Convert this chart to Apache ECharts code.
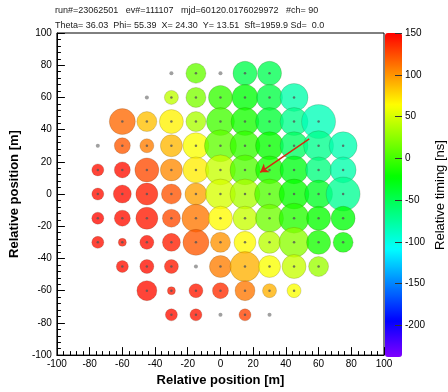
<!DOCTYPE html>
<html>
<head>
<meta charset="utf-8">
<script src="https://cdn.jsdelivr.net/npm/echarts@6/dist/echarts.min.js"></script>
<style>
html,body{margin:0;padding:0;background:#fff;}
#chart{width:448px;height:392px;}
</style>
</head>
<body>
<div id="chart"></div>
<script>
// ---- data ----
const headerLine1 = 'run#=23062501   ev#=111107   mjd=60120.0176029972   #ch= 90';
const headerLine2 = 'Theta= 36.03  Phi= 55.39  X= 24.30  Y= 13.51  Sft=1959.9 Sd=  0.0';

// fired detectors (one row of the array per line)
const hitX = [
  -15, 15, 30,
  -30, -15, 0, 15, 30, 45,
  -60, -45, -30, -15, 0, 15, 30, 45, 60,
  -60, -45, -30, -15, 0, 15, 30, 45, 60, 75,
  -75, -60, -45, -30, -15, 0, 15, 30, 45, 60, 75,
  -75, -60, -45, -30, -15, 0, 15, 30, 45, 60, 75,
  -75, -60, -45, -30, -15, 0, 15, 30, 45, 60, 75,
  -75, -60, -45, -30, -15, 0, 15, 30, 45, 60, 75,
  -60, -45, -30, 0, 15, 30, 45, 60,
  -45, -30, -15, 0, 15, 30, 45,
  -30, -15, 15
];
const hitY = [
  75, 75, 75,
  60, 60, 60, 60, 60, 60,
  45, 45, 45, 45, 45, 45, 45, 45, 45,
  30, 30, 30, 30, 30, 30, 30, 30, 30, 30,
  15, 15, 15, 15, 15, 15, 15, 15, 15, 15, 15,
  0, 0, 0, 0, 0, 0, 0, 0, 0, 0, 0,
  -15, -15, -15, -15, -15, -15, -15, -15, -15, -15, -15,
  -30, -30, -30, -30, -30, -30, -30, -30, -30, -30, -30,
  -45, -45, -45, -45, -45, -45, -45, -45,
  -60, -60, -60, -60, -60, -60, -60,
  -75, -75, -75
];
// relative timing [ns]
const hitTime = [
  12, -48, -50,
  42, 20, -5, -25, -45, -80,
  115, 85, 68, 35, 0, -15, -40, -70, -85,
  120, 108, 88, 62, 10, -5, -20, -55, -70, -82,
  145, 145, 125, 103, 70, 45, 5, -15, -30, -65, -80,
  145, 145, 140, 122, 95, 50, 35, 5, -20, -35, -72,
  147, 145, 142, 125, 110, 65, 45, 15, -10, -20, -25,
  145, 143, 145, 140, 120, 100, 65, 40, 25, -15, -20,
  145, 145, 142, 108, 90, 62, 45, 30,
  145, 142, 142, 135, 110, 90, 62,
  145, 143, 128
];
// signal density (arbitrary log units, drives the bubble size)
const hitDensity = [
  1.0, 1.2, 1.2,
  0.7, 1.0, 1.2, 1.3, 1.3, 1.4,
  1.3, 1.0, 1.2, 1.0, 1.4, 1.4, 1.4, 1.4, 1.7,
  0.8, 0.7, 1.1, 1.3, 1.6, 1.5, 1.4, 1.4, 1.5, 1.4,
  0.6, 0.8, 1.2, 1.1, 1.3, 1.5, 1.5, 1.4, 1.4, 1.3, 1.3,
  0.6, 0.9, 1.1, 1.0, 1.1, 1.5, 1.5, 1.5, 1.5, 1.4, 1.7,
  0.6, 0.8, 1.1, 0.9, 1.4, 1.2, 1.2, 1.4, 1.5, 1.2, 1.2,
  0.6, 0.4, 0.7, 0.9, 1.3, 1.0, 1.1, 1.1, 1.5, 1.2, 1.0,
  0.6, 0.7, 0.7, 1.1, 1.5, 1.1, 1.2, 1.0,
  1.0, 0.4, 0.7, 0.8, 1.0, 0.7, 0.7,
  0.6, 0.6, 0.6
];
// detectors without a hit
const idleX = [-30, 0, -45, -75, -15, 0, 30];
const idleY = [75, 75, 60, 30, -45, -75, -75];

// reconstructed core and arrow tail
const corePos = [24.30, 13.51];
const arrowTail = [54.3, 34.2];

// colour scale range and its tick labels
const timeMin = -238, timeMax = 150;
const timeTicks = [-200, -150, -100, -50, 0, 50, 100, 150];

// ---- build chart ----
const hits = hitX.map((x, i) => [x, hitY[i], hitTime[i], hitDensity[i]]);
const idle = idleX.map((x, i) => [x, idleY[i]]);
const centers = hitX.map((x, i) => [x, hitY[i]]);

// rainbow palette (violet at min -> red at max)
const palette = [];
for (let i = 0; i <= 36; i++) {
  const h = 270 * (1 - i / 36);
  palette.push('hsl(' + h.toFixed(1) + ',100%,50%)');
}

const FONT = 'Liberation Sans';
const chart = echarts.init(document.getElementById('chart'), null, {renderer: 'canvas'});
chart.setOption({
  animation: false,
  textStyle: {fontFamily: FONT, color: '#000'},
  title: [
    {text: headerLine1, left: 50, top: 1, textStyle: {fontSize: 9, fontWeight: 'normal', color: '#222', fontFamily: FONT}},
    {text: headerLine2, left: 50, top: 16, textStyle: {fontSize: 9, fontWeight: 'normal', color: '#222', fontFamily: FONT}}
  ],
  grid: [
    {left: 52, right: 64, top: 33, bottom: 35, show: true, borderColor: '#000', borderWidth: 1, backgroundColor: 'transparent'},
    {left: 385, width: 17, top: 33, bottom: 35}
  ],
  xAxis: [
    {
      type: 'value', gridIndex: 0, min: -100, max: 100, interval: 20,
      name: 'Relative position [m]', nameLocation: 'middle', nameGap: 17,
      nameTextStyle: {fontSize: 13, fontWeight: 'bold', fontFamily: FONT},
      axisLine: {show: true, onZero: false, lineStyle: {color: '#000', width: 1}},
      axisTick: {show: true, inside: true, length: 8, lineStyle: {color: '#000'}},
      minorTick: {show: true, splitNumber: 5, length: 4, lineStyle: {color: '#000'}},
      axisLabel: {fontSize: 10, margin: 4, color: '#000'},
      splitLine: {show: false}
    },
    {type: 'value', gridIndex: 1, min: 0, max: 1, show: false}
  ],
  yAxis: [
    {
      type: 'value', gridIndex: 0, min: -100, max: 100, interval: 20,
      name: 'Relative position [m]', nameLocation: 'middle', nameGap: 30, nameRotate: 90,
      nameTextStyle: {fontSize: 13, fontWeight: 'bold', fontFamily: FONT},
      axisLine: {show: true, onZero: false, lineStyle: {color: '#000', width: 1}},
      axisTick: {show: true, inside: true, length: 8, lineStyle: {color: '#000'}},
      minorTick: {show: true, splitNumber: 5, length: 4, lineStyle: {color: '#000'}},
      axisLabel: {fontSize: 10, margin: 5, color: '#000'},
      splitLine: {show: false}
    },
    {
      type: 'value', gridIndex: 1, position: 'right', min: timeMin, max: timeMax, zlevel: 1, z: 10,
      name: 'Relative timing [ns]', nameLocation: 'middle', nameGap: 32, nameRotate: 90,
      nameTextStyle: {fontSize: 13, fontWeight: 'normal', fontFamily: FONT},
      axisLine: {show: true, onZero: false, lineStyle: {color: 'rgba(0,0,0,0)'}},
      axisTick: {show: true, inside: true, length: 7, customValues: timeTicks, lineStyle: {color: '#333', width: 1}},
      axisLabel: {fontSize: 10, margin: 3, color: '#000', customValues: timeTicks},
      splitLine: {show: false}
    }
  ],
  visualMap: {
    type: 'continuous', show: true, min: timeMin, max: timeMax, dimension: 2, seriesIndex: 0,
    left: 385, top: 33, itemWidth: 17, itemHeight: 324, padding: 0, z: 1,
    calculable: false, hoverLink: false, text: null, showLabel: false,
    inRange: {color: palette}
  },
  series: [
    {
      type: 'scatter', xAxisIndex: 0, yAxisIndex: 0, data: hits,
      symbolSize: v => v[3] * 20,
      itemStyle: {opacity: 0.78, borderColor: 'rgba(60,40,0,0.22)', borderWidth: 1},
      z: 2
    },
    {
      type: 'scatter', xAxisIndex: 0, yAxisIndex: 0, data: centers,
      symbolSize: 2.5, itemStyle: {color: '#555'}, z: 3, silent: true
    },
    {
      type: 'scatter', xAxisIndex: 0, yAxisIndex: 0, data: idle,
      symbolSize: 4, itemStyle: {color: '#888'}, z: 3, silent: true
    },
    {
      type: 'lines', coordinateSystem: 'cartesian2d', xAxisIndex: 0, yAxisIndex: 0,
      symbol: ['none', 'arrow'], symbolSize: 8,
      lineStyle: {color: '#d42a10', width: 1.5, opacity: 1},
      data: [{coords: [arrowTail, corePos]}], z: 5
    }
  ]
});
</script>
</body>
</html>
